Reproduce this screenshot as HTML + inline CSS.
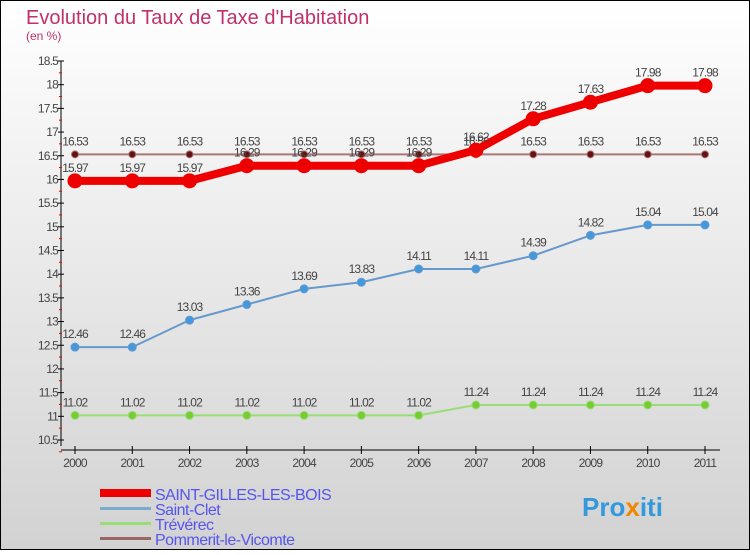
<!DOCTYPE html>
<html><head><meta charset="utf-8"><style>
body{margin:0;}
svg text{font-family:"Liberation Sans",sans-serif;}
</style></head><body>
<svg id="c" width="750" height="550" xmlns="http://www.w3.org/2000/svg">
<defs><linearGradient id="bg" x1="0" y1="0" x2="0" y2="1"><stop offset="0" stop-color="#ffffff"/><stop offset="1" stop-color="#d2d2d2"/></linearGradient></defs>
<rect x="0.5" y="0.5" width="749" height="549" fill="url(#bg)" stroke="#000"/>
<text x="26" y="24" font-size="20" fill="#c0306a">Evolution du Taux de Taxe d'Habitation</text>
<text x="26" y="40" font-size="12" fill="#c0306a">(en %)</text>
<g id="axes"></g><g id="series"></g>
<g>
<rect x="100" y="489" width="51" height="8" fill="#ee0000"/>
<text x="155" y="500" font-size="16" fill="#5555ee" letter-spacing="-0.5">SAINT-GILLES-LES-BOIS</text>
<rect x="100" y="507" width="51" height="3" fill="#7aaacc"/>
<text x="155" y="515" font-size="16" fill="#5555ee" letter-spacing="-0.5">Saint-Clet</text>
<rect x="100" y="522" width="51" height="3" fill="#99dd77"/>
<text x="155" y="530" font-size="16" fill="#5555ee" letter-spacing="-0.5">Trévérec</text>
<rect x="100" y="537" width="51" height="3" fill="#996666"/>
<text x="155" y="545" font-size="16" fill="#5555ee" letter-spacing="-0.5">Pommerit-le-Vicomte</text>
</g>
<text x="582" y="516" font-size="26" font-weight="bold" fill="#3399dd">Pro<tspan fill="#ee8800">x</tspan>iti</text>
</svg>
<script>
const years=[2000,2001,2002,2003,2004,2005,2006,2007,2008,2009,2010,2011];
const yTicks=[10.5,11,11.5,12,12.5,13,13.5,14,14.5,15,15.5,16,16.5,17,17.5,18,18.5];
const sgb=[15.97,15.97,15.97,16.29,16.29,16.29,16.29,16.62,17.28,17.63,17.98,17.98];
const clet=[12.46,12.46,13.03,13.36,13.69,13.83,14.11,14.11,14.39,14.82,15.04,15.04];
const trev=[11.02,11.02,11.02,11.02,11.02,11.02,11.02,11.24,11.24,11.24,11.24,11.24];
const pomm=[16.53,16.53,16.53,16.53,16.53,16.53,16.53,16.53,16.53,16.53,16.53,16.53];
const NS="http://www.w3.org/2000/svg";
const X=i=>75+i*(705-75)/(years.length-1);
const Y=v=>440-(v-10.5)*(440-61)/8;
function mk(t,a,p){const e=document.createElementNS(NS,t);for(const k in a)e.setAttribute(k,a[k]);p.appendChild(e);return e;}
const ax=document.getElementById('axes');
const yl=mk('line',{x1:61,y1:61,x2:61,y2:446,stroke:'#000'},ax);


const xl=mk('line',{x1:61,y1:450,x2:720,y2:450,stroke:'#000'},ax);


yTicks.forEach(v=>{const y=Y(v);
mk('line',{x1:58,y1:y,x2:64,y2:y,stroke:'#000'},ax);
mk('line',{x1:59,y1:y+11.8,x2:62,y2:y+11.8,stroke:'#e00'},ax);
const t=mk('text',{x:58,y:y+4,'font-size':12,'text-anchor':'end',fill:'#444','letter-spacing':'-0.8'},ax);t.textContent=v;

});
years.forEach((yr,i)=>{const x=X(i);
mk('line',{x1:x,y1:446,x2:x,y2:454,stroke:'#000'},ax);
const t=mk('text',{x:x,y:467,'font-size':12,'text-anchor':'middle',fill:'#444','letter-spacing':'-0.8'},ax);t.textContent=yr;

});
const sg=document.getElementById('series');
function draw(vals,col,w,r,dot,name){
const g=mk('g',{},sg);


mk('polyline',{points:vals.map((v,i)=>X(i)+','+Y(v)).join(' '),fill:'none',stroke:col,'stroke-width':w,'stroke-linejoin':'round'},g);
vals.forEach((v,i)=>{
const c=mk('circle',{cx:X(i),cy:Y(v),r:r,fill:dot,stroke:col,'stroke-width':1},g);


const t=mk('text',{x:X(i),y:Y(v)-9,'font-size':12,'text-anchor':'middle',fill:'#444','letter-spacing':'-0.9'},g);t.textContent=v.toFixed(2).replace(/0$/,'');

});}
draw(trev,'#99dd77',2,4,'#77cc33','series-treverec');
draw(clet,'#6699cc',2,4,'#4499dd','series-saint-clet');
draw(pomm,'#aa7777',2,3.5,'#661111','series-pommerit');
draw(sgb,'#ee0000',8,7,'#ee0000','series-saint-gilles');
</script>
</body></html>
